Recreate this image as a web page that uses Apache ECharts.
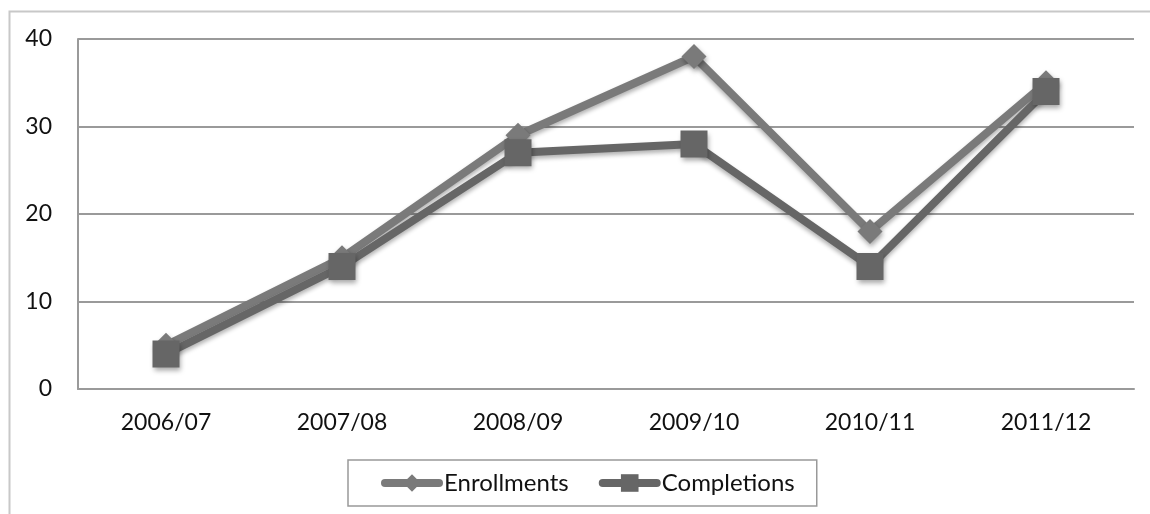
<!DOCTYPE html>
<html>
<head>
<meta charset="utf-8">
<script src="https://cdn.jsdelivr.net/npm/echarts@6/dist/echarts.min.js"></script>
<style>
  html, body { margin: 0; padding: 0; background: #fff; }
  #chart { width: 1150px; height: 514px; }
</style>
</head>
<body>
<div id="chart"></div>
<script>
// School years on the x axis
const years = ['2006/07', '2007/08', '2008/09', '2009/10', '2010/11', '2011/12'];
// Students enrolled and completed per year
const enrollments = [5, 15, 29, 38, 18, 35];
const completions = [4, 14, 27, 28, 14, 34];
// Value axis ticks
const yTicks = [0, 10, 20, 30, 40];

const FONT = 'Lato, "Open Sans", sans-serif';
const LINE_W = 8;

function seriesOf(name, data, symbol, size, color, z) {
  return {
    name: name,
    type: 'line',
    data: data,
    symbol: symbol,
    symbolSize: size,
    showAllSymbol: true,
    z: z,
    lineStyle: {
      width: LINE_W,
      color: color,
      shadowBlur: 4,
      shadowColor: 'rgba(0,0,0,0.3)',
      shadowOffsetY: 3
    },
    itemStyle: {
      color: color,
      borderWidth: 0,
      shadowBlur: 5,
      shadowColor: 'rgba(0,0,0,0.35)',
      shadowOffsetX: 1,
      shadowOffsetY: 3
    },
    emphasis: { disabled: true }
  };
}

const chart = echarts.init(document.getElementById('chart'), null, { renderer: 'canvas' });
chart.setOption({
  animation: false,
  backgroundColor: '#fff',
  textStyle: { fontFamily: FONT },
  graphic: [{
    type: 'rect',
    left: 7, top: 9,
    shape: { width: 1200, height: 520 },
    style: { fill: 'none', stroke: '#c8c8c8', lineWidth: 2 },
    z: -1,
    silent: true
  }],
  grid: { left: 78, right: 16, top: 39, bottom: 125, containLabel: false },
  legend: {
    bottom: 8,
    left: 348,
    itemWidth: 54,
    itemHeight: 22,
    itemGap: 30,
    padding: [11, 22, 11, 33],
    borderColor: '#999',
    borderWidth: 1.5,
    lineStyle: { width: LINE_W, cap: 'round' },
    itemStyle: { shadowBlur: 0, shadowOffsetX: 0, shadowOffsetY: 0 },
    textStyle: { fontFamily: FONT, fontSize: 24, color: '#111', padding: [0, 0, 0, 0] },
    data: ['Enrollments', 'Completions']
  },
  xAxis: {
    type: 'category',
    data: years,
    boundaryGap: true,
    axisLine: { lineStyle: { color: '#9a9a9a', width: 2 } },
    axisTick: { show: false },
    axisLabel: { fontSize: 23, color: '#111', margin: 22, fontFamily: FONT }
  },
  yAxis: {
    type: 'value',
    min: yTicks[0],
    max: yTicks[yTicks.length - 1],
    interval: 10,
    axisLine: { show: true, lineStyle: { color: '#9a9a9a', width: 2 } },
    axisTick: { show: false },
    axisLabel: { fontSize: 23, color: '#111', margin: 26, fontFamily: FONT },
    splitLine: { lineStyle: { color: '#9a9a9a', width: 2 } }
  },
  series: [
    seriesOf('Enrollments', enrollments, 'diamond', 25, '#7a7a7a', 2),
    seriesOf('Completions', completions, 'rect', 27, '#666666', 3)
  ]
});
</script>
</body>
</html>
